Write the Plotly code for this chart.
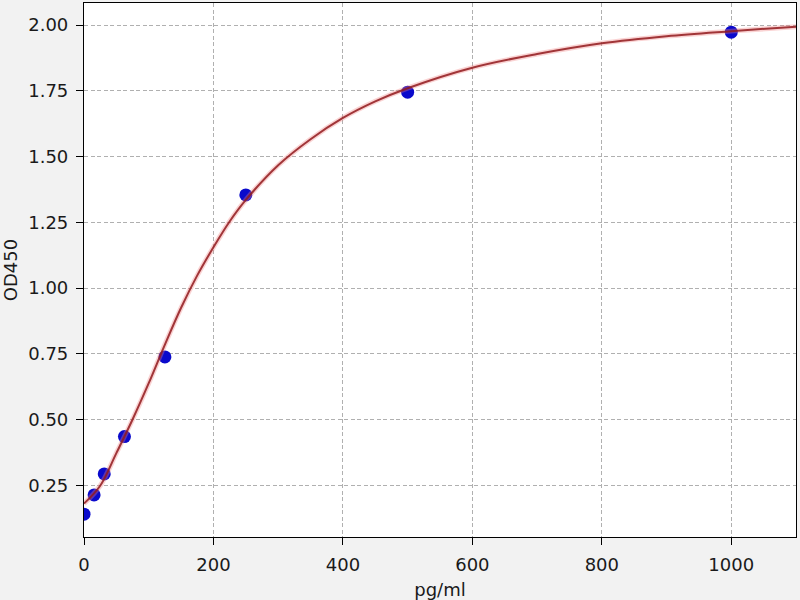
import plotly.graph_objects as go

# standards (pg/ml) and measured OD450
conc = [0, 15.6, 31.25, 62.5, 125, 250, 500, 1000]
od = [0.140, 0.213, 0.293, 0.435, 0.738, 1.354, 1.745, 1.973]

# fitted curve
curve_x = [0, 25, 50, 75, 100, 125, 150, 175, 200, 225, 250, 300, 350, 400, 450,
           500, 600, 700, 800, 900, 1000, 1100]
curve_y = [0.180, 0.248, 0.372, 0.500, 0.638, 0.785, 0.925, 1.048, 1.155, 1.253,
           1.335, 1.467, 1.566, 1.647, 1.710, 1.760, 1.838, 1.890, 1.931, 1.958, 1.977, 1.994]

y_ticks = [0.25, 0.50, 0.75, 1.00, 1.25, 1.50, 1.75, 2.00]
x_ticks = [0, 200, 400, 600, 800, 1000]

fig = go.Figure()

fig.add_trace(go.Scatter(x=conc, y=od, mode='markers',
                         marker=dict(color='#0a0acc', size=13, line=dict(width=0)),
                         showlegend=False))
# soft halo under the fitted line
fig.add_trace(go.Scatter(x=curve_x, y=curve_y, mode='lines', line_shape='spline',
                         line=dict(color='rgba(240,130,130,0.35)', width=5),
                         showlegend=False, hoverinfo='skip'))
fig.add_trace(go.Scatter(x=curve_x, y=curve_y, mode='lines', line_shape='spline',
                         line=dict(color='#921a1e', width=2), opacity=0.85,
                         showlegend=False))

font = dict(family='DejaVu Sans', size=18, color='#1a1a1a')
axis_style = dict(showline=True, mirror=True, linecolor='black', linewidth=1.2,
                  ticks='outside', ticklen=7, tickcolor='black', tickwidth=1,
                  showgrid=True, gridcolor='#b0b0b0', gridwidth=1, griddash='4px,2.5px',
                  zeroline=False, ticklabelstandoff=4, automargin=False,
                  tickfont=font)

fig.update_xaxes(range=[0, 1100], tickvals=x_ticks,
                 title=dict(text='pg/ml', font=font), **axis_style)
fig.update_yaxes(range=[0.053, 2.084], tickvals=y_ticks, tickformat='.2f',
                 title=dict(text='OD450', font=font), **axis_style)

fig.update_layout(width=800, height=600, paper_bgcolor='#f2f2f2', plot_bgcolor='white',
                  margin=dict(l=84, r=4, t=3, b=63))

# page has a default body margin; drop it so the figure sits at the corner
fig.write_html("out.html", config={'displayModeBar': False},
               post_script="document.body.style.margin='0';")
